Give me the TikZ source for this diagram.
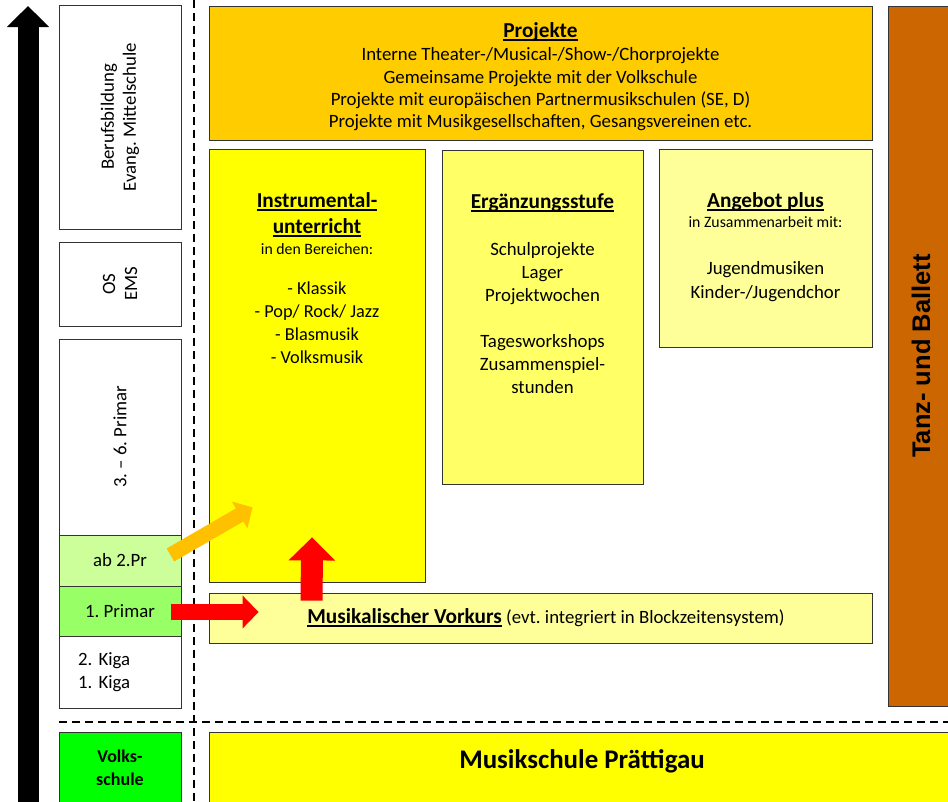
\documentclass[tikz,border=0pt]{standalone}
\usepackage{fontspec}
\setmainfont{Carlito}
\newfontfamily\tanzfont{Liberation Sans}
\usetikzlibrary{arrows.meta,positioning,calc}
\frenchspacing

\definecolor{projgelb}{HTML}{FFCC00}
\definecolor{vollgelb}{HTML}{FFFF00}
\definecolor{mittelgelb}{HTML}{FFFF66}
\definecolor{hellgelb}{HTML}{FFFF99}
\definecolor{tanzbraun}{HTML}{CC6600}
\definecolor{hellgruen}{HTML}{CCFF99}
\definecolor{mittelgruen}{HTML}{99FF66}
\definecolor{vsgruen}{HTML}{00FF00}
\definecolor{pfeilorange}{HTML}{FFC000}
\definecolor{pfeilrot}{HTML}{FF0000}

\newcommand{\fsz}[2]{\fontsize{#1}{#2}\selectfont}
\newcommand{\ulbox}[1]{\setbox0=\hbox{#1}\rlap{\rule[-0.16em]{\wd0}{0.08em}}\box0}
\newcommand{\titel}[1]{{\bfseries\fontsize{21.3}{23}\selectfont\ulbox{#1}}}

\begin{document}
\begin{tikzpicture}[x=1pt, y=-1pt,
    cell/.style={draw=black!80, line width=0.8pt, inner sep=0pt, minimum width=122pt,
                 align=center, font=\fsz{18.8}{22}},
    feld/.style={draw=black!80, line width=0.8pt, inner sep=0pt},
    txt/.style={anchor=north, inner sep=0pt, align=center},
    sepline/.style={line width=1.6pt, dash pattern=on 8pt off 5pt},
    bpfeil/.style n args={3}{line width=#1, -{Triangle[length=#2,width=#3]}}]

    \useasboundingbox (0,0) rectangle (948,801);
    \clip (0,0) rectangle (948,801);

    % Trennlinien
    \coordinate (vtop) at (194,0);
    \coordinate (vbot) at (194,801);
    \coordinate (hleft) at (59,722);
    \coordinate (hright) at (948,722);
    \draw[sepline] (vtop) -- (vbot);
    \draw[sepline] (hleft) -- (hright);

    % Altersachse
    \coordinate (agebot) at (28,812);
    \coordinate (agetop) at (28,6);
    \draw[bpfeil={21pt}{21pt}{41pt}] (agebot) -- (agetop);

    % Schulstufen
    \node[cell, rotate=90, minimum width=224pt, minimum height=122pt] (beruf) at (120,117) {Berufsbildung\\Evang. Mittelschule};
    \node[cell, rotate=90, minimum width=84pt, minimum height=122pt] (osems) at (120,284) {OS\\EMS};
    \node[cell, rotate=90, minimum width=196pt, minimum height=122pt] (prim36) at (120,437) {3. -- 6. Primar};
    \node[cell, minimum height=51pt, fill=hellgruen] (abpr) at (120,560.5) {ab 2.Pr};
    \node[cell, minimum height=50pt, fill=mittelgruen] (prim1) at (120,611) {1. Primar};
    \node[cell, minimum height=72pt, align=left, text width=84pt, font=\fsz{18.8}{23}] (kiga) at (120,672) {2. Kiga\\1. Kiga};
    \node[cell, minimum height=71pt, fill=vsgruen, font=\fsz{18}{23}\bfseries] (volks) at (120,767.5) {Volks-\\schule};

    % Angebote der Musikschule
    \node[feld, fill=projgelb, minimum width=663pt, minimum height=134pt] (proj) at (540.5,73) {};
    \node[txt, font=\fsz{18.8}{22.3}] (projT) at ($(proj.north)+(0,17)$)
        {\titel{Projekte}\\[0.9pt]
         Interne Theater-/Musical-/Show-/Chorprojekte\\
         Gemeinsame Projekte mit der Volkschule\\
         Projekte mit europäischen Partnermusikschulen (SE, D)\\
         Projekte mit Musikgesellschaften, Gesangsvereinen etc.};

    \node[feld, fill=vollgelb, minimum width=216pt, minimum height=433pt] (instr) at (317,365.5) {};
    \node[txt, font=\fsz{18.3}{23}] (instrT) at ($(instr.north)+(0,44)$)
        {\titel{Instrumental-}\\[3pt]
         \titel{unterricht}\\[-2.7pt]
         {\fsz{15.8}{23}in den Bereichen:}\\[17.6pt]
         - Klassik\\
         - Pop/ Rock/ Jazz\\
         - Blasmusik\\
         - Volksmusik};

    \node[feld, fill=mittelgelb, minimum width=201pt, minimum height=334pt] (ergz) at (542.5,317) {};
    \node[txt, font=\fsz{18.8}{23}] (ergzT) at ($(ergz.north)+(0,44)$)
        {\titel{Ergänzungsstufe}\\[24.2pt]
         Schulprojekte\\
         Lager\\
         Projektwochen\\[23pt]
         Tagesworkshops\\
         Zusammenspiel-\\
         stunden};

    \node[feld, fill=hellgelb, minimum width=213pt, minimum height=198pt] (plus) at (765.5,248) {};
    \node[txt, font=\fsz{18.8}{23}] (plusT) at ($(plus.north)+(0,44)$)
        {\titel{Angebot plus}\\[-3.7pt]
         {\fsz{15.8}{23}in Zusammenarbeit mit:}\\[24.9pt]
         Jugendmusiken\\[1pt]
         Kinder-/Jugendchor};

    \node[feld, fill=hellgelb, minimum width=663pt, minimum height=50pt] (vork) at (540.5,618) {};
    \node[inner sep=0pt, font=\fsz{18.8}{23}] (vorkT) at ($(vork)+(5.5,0)$)
        {\titel{Musikalischer Vorkurs} (evt. integriert in Blockzeitensystem)};

    \node[feld, fill=tanzbraun, rotate=90, minimum width=700pt, minimum height=66pt,
          font=\tanzfont\bfseries\fsz{25.5}{28}] (tanz) at (921,356) {Tanz- und Ballett};

    \node[feld, fill=vollgelb, minimum width=746pt, minimum height=80pt] (musik) at (582,772) {};
    \node[inner sep=0pt, font=\bfseries\fsz{26.9}{28}] (musikT) at ($(musik.north)+(0,29.5)$) {Musikschule Prättigau};

    % Uebergaenge
    \draw[bpfeil={15pt}{15pt}{30pt}, pfeilorange] ($(abpr.east)+(-11,-5.5)$) -- ($(instr.south west)+(44,-75)$);
    \draw[bpfeil={16pt}{16pt}{32pt}, pfeilrot] ($(prim1.east)+(-10,1)$) -- ($(vork.west)+(50,-6)$);
    \draw[bpfeil={22pt}{23pt}{45pt}, pfeilrot] ($(vork.north west)+(103,8)$) -- ($(instr.south)+(-5,-45)$);
\end{tikzpicture}
\end{document}
